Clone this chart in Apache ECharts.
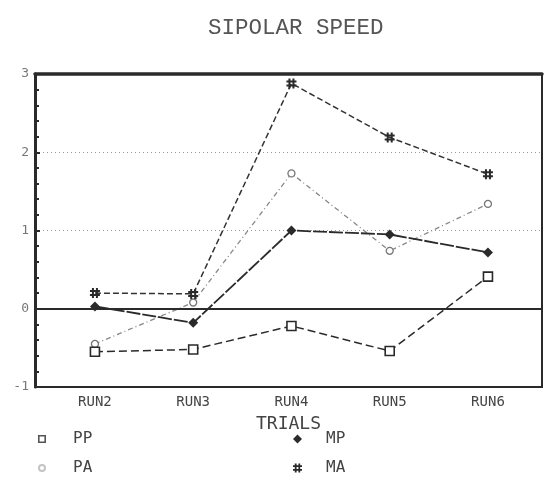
<!DOCTYPE html>
<html>
<head>
<meta charset="utf-8">
<style>
  html, body { margin: 0; padding: 0; background: #fff; }
  #chart { width: 548px; height: 498px; }
</style>
<script src="https://cdn.jsdelivr.net/npm/echarts@6/dist/echarts.min.js"></script>
</head>
<body>
<div id="chart"></div>
<script>
// Trial runs along the x axis
const categories = ['RUN2', 'RUN3', 'RUN4', 'RUN5', 'RUN6'];

// Mean speed per group for each run
const ppValues = [-0.55, -0.52, -0.22, -0.54, 0.41];
const paValues = [-0.45, 0.08, 1.73, 0.74, 1.34];
const mpValues = [0.03, -0.18, 1.0, 0.95, 0.72];
const maValues = [0.2, 0.19, 2.88, 2.19, 1.72];

// Value-axis tick labels
const yTickLabels = ['-1', '0', '1', '2', '3'];

const runNumbers = categories.map(c => parseInt(c.replace('RUN', ''), 10));
const toPoints = vals => vals.map((v, i) => [runNumbers[i], v]);

const MONO = '"DejaVu Sans Mono", "Liberation Mono", monospace';
const INK = '#2a2a2a';

// hash-like marker, hollow square and ring used for the groups
const HASH = 'path://M2,0h2v10h-2z M6,0h2v10h-2z M0,2h10v2h-10z M0,6h10v2h-10z';
const HOLLOW_SQ = 'path://M0,0H10V10H0Z M2,2V8H8V2Z';
const RING = 'path://M5,0A5,5 0 1 1 5,10A5,5 0 1 1 5,0Z M5,2.5A2.5,2.5 0 1 0 5,7.5A2.5,2.5 0 1 0 5,2.5Z';

const legendText = pad => ({
  fontFamily: MONO, fontSize: 16, color: '#444', lineHeight: 16,
  padding: [0, 0, 0, pad]
});

const chart = echarts.init(document.getElementById('chart'), null, { renderer: 'canvas' });

const option = {
  backgroundColor: '#fff',
  animation: false,
  title: {
    text: 'SIPOLAR SPEED',
    left: 203,
    top: 12,
    textStyle: { fontFamily: '"Liberation Mono", monospace', fontSize: 22.5, fontWeight: 'normal', color: '#555' }
  },
  grid: {
    left: 35, right: 6, top: 74, bottom: 111,
    show: true, borderColor: INK, borderWidth: 2
  },
  legend: [
    {
      data: [
        { name: 'PP', icon: HOLLOW_SQ, itemStyle: { color: '#555', borderWidth: 0 } },
        { name: 'PA', icon: RING, itemStyle: { color: '#c4c4c4', borderWidth: 0 } }
      ],
      orient: 'vertical',
      left: 33, top: 426,
      itemWidth: 8, itemHeight: 8, itemGap: 13,
      textStyle: legendText(22)
    },
    {
      data: [
        { name: 'MP', icon: 'diamond', itemStyle: { color: INK, borderWidth: 0 } },
        { name: 'MA', icon: HASH, itemStyle: { color: INK, borderWidth: 0 } }
      ],
      orient: 'vertical',
      left: 288, top: 426,
      itemWidth: 9, itemHeight: 9, itemGap: 13,
      textStyle: legendText(19)
    }
  ],
  xAxis: [
    {
      type: 'value',
      min: 1.39, max: 6.55,
      name: 'TRIALS',
      nameLocation: 'middle',
      nameGap: 28,
      nameTextStyle: { fontFamily: MONO, fontSize: 18, color: '#444' },
      axisLine: { show: true, lineStyle: { color: INK, width: 2 } },
      axisTick: { show: false },
      splitLine: { show: false },
      axisLabel: {
        customValues: runNumbers,
        formatter: v => categories[runNumbers.indexOf(v)] || '',
        fontFamily: MONO, fontSize: 14, color: '#444', margin: 8
      }
    },
    {
      type: 'value',
      position: 'top',
      min: 1.39, max: 6.55,
      axisLine: { show: true, lineStyle: { color: INK, width: 3.5 } },
      axisTick: { show: false },
      axisLabel: { show: false },
      splitLine: { show: false }
    }
  ],
  yAxis: {
    type: 'value',
    min: -1, max: 3, interval: 1,
    axisLine: { show: true, lineStyle: { color: INK, width: 3 } },
    axisTick: { show: true, inside: true, length: 5, lineStyle: { color: INK, width: 2 } },
    minorTick: { show: true, splitNumber: 5, length: 4, lineStyle: { color: INK, width: 2 } },
    axisLabel: {
      formatter: v => yTickLabels[yTickLabels.indexOf(String(v))] || '',
      fontFamily: MONO, fontSize: 13, color: '#777', margin: 6
    },
    splitLine: {
      show: true, showMinLine: false, showMaxLine: false,
      lineStyle: { color: '#999', type: [1, 3], width: 1 }
    }
  },
  series: [
    {
      name: 'PP', type: 'line', data: toPoints(ppValues),
      symbol: 'rect', symbolSize: 9,
      color: INK,
      itemStyle: { color: '#fff', borderColor: INK, borderWidth: 1.6 },
      lineStyle: { color: INK, width: 1.5, type: [8, 4] },
      markLine: {
        silent: true, symbol: 'none', label: { show: false },
        lineStyle: { color: INK, width: 1.8, type: 'solid' },
        data: [{ yAxis: 0 }]
      },
      z: 3
    },
    {
      name: 'PA', type: 'line', data: toPoints(paValues),
      symbol: 'circle', symbolSize: 7,
      color: '#888',
      itemStyle: { color: '#fff', borderColor: '#777', borderWidth: 1.3 },
      lineStyle: { color: '#888', width: 1.3, type: [5, 3, 1, 3] },
      z: 2
    },
    {
      name: 'MP', type: 'line', data: toPoints(mpValues),
      symbol: 'diamond', symbolSize: 10,
      color: INK,
      itemStyle: { color: INK },
      lineStyle: { color: INK, width: 1.8, type: [14, 2] },
      z: 4
    },
    {
      name: 'MA', type: 'line', data: toPoints(maValues),
      symbol: HASH, symbolSize: 10,
      color: INK,
      itemStyle: { color: INK },
      lineStyle: { color: '#333', width: 1.5, type: [6, 3] },
      z: 4
    }
  ]
};

chart.setOption(option);
</script>
</body>
</html>
